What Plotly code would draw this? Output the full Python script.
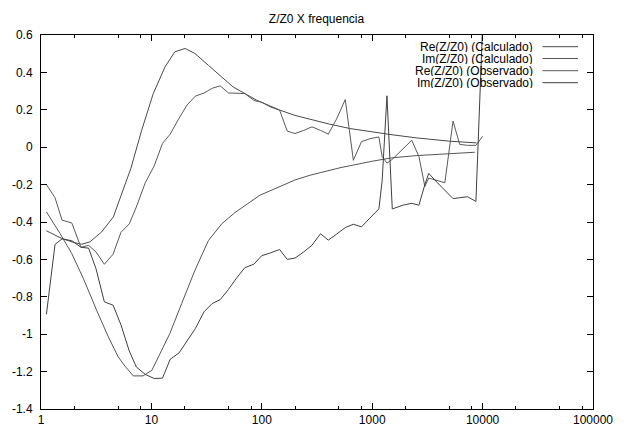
import plotly.graph_objects as go

# ---- data ----
freq_calc = [1.12, 1.54, 2.0, 2.34, 2.78, 3.54, 4.52, 5.4, 6.5, 8.17, 10.4, 13.3, 16.3,
             20.2, 24.8, 32.8, 43.3, 55, 90, 146, 200, 273, 400, 627, 1000, 1450,
             2500, 5050, 8800]
re_calc = [-0.447, -0.488, -0.51, -0.519, -0.506, -0.453, -0.373, -0.245, -0.115, 0.091,
           0.287, 0.43, 0.51, 0.528, 0.501, 0.438, 0.376, 0.322, 0.251, 0.198, 0.17,
           0.148, 0.125, 0.10, 0.08, 0.068, 0.05, 0.032, 0.023]

freq_calc2 = [1.12, 1.49, 1.9, 2.42, 3.19, 4.07, 5.0, 5.77, 6.85, 8.4, 10.1, 11.95, 14.7,
              18.8, 24.8, 32.8, 43.3, 57, 96, 156, 200, 273, 400, 511, 1000, 1500,
              2500, 8500]
im_calc = [-0.346, -0.462, -0.569, -0.702, -0.872, -1.014, -1.121, -1.171, -1.223, -1.223,
           -1.193, -1.103, -0.996, -0.836, -0.658, -0.50, -0.41, -0.35, -0.257, -0.203,
           -0.175, -0.15, -0.125, -0.11, -0.075, -0.057, -0.045, -0.027]

freq_obs = [1.12, 1.34, 1.55, 1.9, 2.3, 2.7, 3.15, 3.75, 4.5, 5.3, 6.3, 7.3, 8.8, 10.6,
            12.6, 14.8, 17.8, 21, 25, 30, 35.5, 42, 50, 59, 70, 85, 100, 120, 145, 170,
            200, 240, 285, 340, 400, 475, 570, 675, 800, 950, 1150, 1230, 1360, 1520,
            1900, 2280, 2650, 3000, 3250, 3900, 4550, 5400, 6200, 7300, 8700, 10000]
re_obs = [-0.20, -0.27, -0.39, -0.405, -0.535, -0.525, -0.56, -0.626, -0.572, -0.455,
          -0.41, -0.32, -0.19, -0.10, 0.02, 0.07, 0.155, 0.225, 0.273, 0.29, 0.315, 0.328,
          0.29, 0.288, 0.287, 0.25, 0.24, 0.215, 0.198, 0.086, 0.073, 0.09, 0.109, 0.09,
          0.07, 0.15, 0.255, -0.07, 0.03, 0.045, 0.055, -0.05, -0.085, -0.065, -0.01,
          0.037, -0.05, -0.21, -0.165, -0.18, -0.19, 0.14, 0.015, 0.01, 0.01, 0.058]
im_obs = [-0.893, -0.52, -0.49, -0.50, -0.535, -0.54, -0.65, -0.827, -0.845, -0.95,
          -1.09, -1.175, -1.215, -1.237, -1.235, -1.134, -1.10, -1.04, -0.97, -0.88,
          -0.836, -0.815, -0.76, -0.70, -0.645, -0.625, -0.58, -0.565, -0.547, -0.60,
          -0.593, -0.56, -0.524, -0.463, -0.497, -0.465, -0.43, -0.412, -0.426, -0.38,
          -0.33, -0.18, 0.275, -0.33, -0.31, -0.30, -0.31, -0.2, -0.14, -0.19, -0.23,
          -0.275, -0.27, -0.265, -0.29, 0.65]

series_names = ["Re(Z/Z0) (Calculado)", "Im(Z/Z0) (Calculado)",
                "Re(Z/Z0) (Observado)", "Im(Z/Z0) (Observado)"]
series_colors = ["#4a4a4a", "#555555", "#5a5a5a", "#404040"]

x_tickvals = [1, 10, 100, 1000, 10000, 100000]
x_ticktext = ["1", "10", "100", "1000", "10000", "100000"]
x_minor = [m * 10 ** d for d in range(0, 5) for m in (2, 5, 8)]
y_tickvals = [0.6, 0.4, 0.2, 0, -0.2, -0.4, -0.6, -0.8, -1, -1.2, -1.4]
y_ticktext = ["0.6", "0.4", "0.2", "0", "-0.2", "-0.4", "-0.6", "-0.8", "-1", "-1.2", "-1.4"]

title_text = "Z/Z0 X frequencia"

FONT = "Liberation Sans, Arial, sans-serif"

fig = go.Figure()
data = [(freq_calc, re_calc), (freq_calc2, im_calc), (freq_obs, re_obs), (freq_obs, im_obs)]
for (xs, ys), name, col in zip(data, series_names, series_colors):
    fig.add_trace(go.Scatter(x=xs, y=ys, mode="lines", name=name,
                             line=dict(color=col, width=1), showlegend=False,
                             cliponaxis=True))

# gnuplot-style legend: right-aligned text followed by a line sample
W, H = 625, 426
L, R, T, B = 41, 32, 35, 17
pw, ph = W - L - R, H - T - B
def px(xp):
    return (xp - L) / pw
def py(yp):
    return (H - B - yp) / ph

row_y = [46.7, 58.5, 70.7, 82.7]
for name, col, yy in zip(series_names, series_colors, row_y):
    fig.add_annotation(x=px(534), y=py(yy), xref="paper", yref="paper",
                       text=name, showarrow=False, xanchor="right", yanchor="middle",
                       height=11, borderpad=0,
                       font=dict(family=FONT, size=12, color="black"))
    fig.add_shape(type="line", xref="paper", yref="paper",
                  x0=px(542.5), x1=px(578), y0=py(yy), y1=py(yy),
                  line=dict(color=col, width=1))

fig.update_layout(
    width=W, height=H,
    margin=dict(l=L, r=R, t=T, b=B, pad=0),
    paper_bgcolor="white", plot_bgcolor="white",
    font=dict(family=FONT, size=12, color="black"),
    title=dict(text=title_text, x=316.5 / W, xanchor="center",
               y=1 - 19 / H, yanchor="middle",
               font=dict(family=FONT, size=12, color="black")),
    showlegend=False,
)
fig.update_xaxes(type="log", range=[0, 5], tickvals=x_tickvals, ticktext=x_ticktext,
                 ticks="inside", ticklen=6, tickcolor="black", tickwidth=1,
                 showline=True, linecolor="black", linewidth=1, mirror="ticks",
                 showgrid=False, zeroline=False, automargin=False,
                 ticklabelstandoff=0,
                 minor=dict(tickvals=x_minor, ticks="inside", ticklen=3,
                            tickcolor="black", showgrid=False),
                 tickfont=dict(family=FONT, size=12, color="black"))
fig.update_yaxes(range=[-1.4, 0.6], tickvals=y_tickvals, ticktext=y_ticktext,
                 ticks="inside", ticklen=6, tickcolor="black", tickwidth=1,
                 showline=True, linecolor="black", linewidth=1, mirror="ticks",
                 showgrid=False, zeroline=False, automargin=False,
                 ticklabelstandoff=5,
                 tickfont=dict(family=FONT, size=12, color="black"))

fig.write_html("out.html")
